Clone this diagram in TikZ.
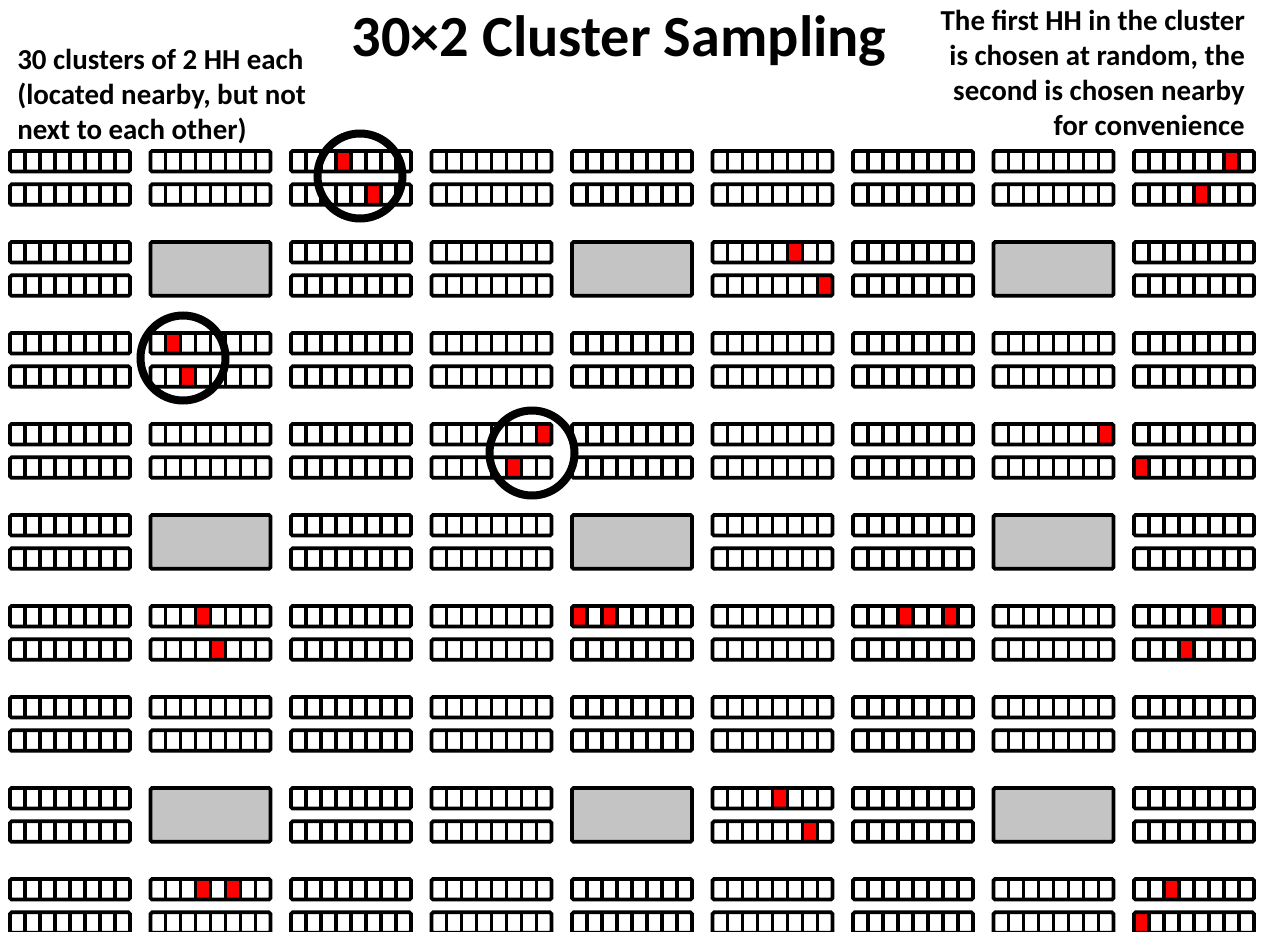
\documentclass[tikz,border=0pt]{standalone}
\usepackage{fontspec}
\setmainfont{Carlito}
\definecolor{lotgray}{RGB}{196,196,196}
\definecolor{hhred}{RGB}{255,0,0}

\begin{document}
\begin{tikzpicture}[x=0.75pt, y=-0.75pt, font=\bfseries]
  \tikzset{strip/.style={draw=black, line width=2.8pt, rounded corners=1.2pt},
    cellline/.style={draw=black, line width=2.4pt},
    lot/.style={draw=black, fill=lotgray, line width=2.8pt, rounded corners=1.2pt},
    pick/.style={fill=hhred},
    ring/.style={draw=black, line width=6pt},
    note/.style={inner sep=0pt, font=\fontsize{21.7}{26.3}\selectfont\bfseries}}
  \useasboundingbox (0,0) rectangle (1266,931);

  % chosen households
  \foreach \c/\r/\b/\k in {3/1/0/4, 3/1/1/6, 9/1/0/7, 9/1/1/5, 6/2/0/6, 6/2/1/8,
      2/3/0/2, 2/3/1/3, 4/4/0/8, 4/4/1/6, 8/4/0/8, 9/4/1/1, 2/6/0/4, 2/6/1/5,
      5/6/0/1, 5/6/0/3, 7/6/0/4, 7/6/0/7, 9/6/0/6, 9/6/1/4, 6/8/0/5, 6/8/1/7,
      2/9/0/4, 2/9/0/6, 9/9/0/3, 9/9/1/1}
    \fill[pick] ({10+(\c-1)*140.5+(\k-1)*15},{151+(\r-1)*91+\b*33.3}) rectangle ++(15,20.5);

  % rows of houses and empty lots
  \foreach \r in {1,...,9}{
    \foreach \c in {1,...,9}{
      \pgfmathsetmacro\px{10+(\c-1)*140.5}
      \pgfmathsetmacro\py{151+(\r-1)*91}
      \pgfmathtruncatemacro\islot{(mod(\r,3)==2)&&(mod(\c,3)==2)}
      \ifnum\islot=1
        \draw[lot] (\px,\py) rectangle ++(120,53.8);
      \else
        \foreach \b in {0,1}{
          \draw[strip] (\px,{\py+\b*33.3}) rectangle ++(120,20.5);
          \foreach \k in {1,...,7}
            \draw[cellline] ({\px+\k*15},{\py+\b*33.3}) -- ++(0,20.5);
        }
      \fi
    }
  }

  % clusters
  \draw[ring] (360,176) circle[radius=42.5];
  \draw[ring] (183,358) circle[radius=42.5];
  \draw[ring] (532,453) circle[radius=42.5];

  \node[anchor=base, font=\fontsize{43.7}{52}\selectfont\bfseries] (title) at (619,57) {30×2 Cluster Sampling};
  \node[note, anchor=north west, align=left] (leftnote) at (17,49)
    {30 clusters of 2 HH each\\(located nearby, but not\\next to each other)};
  \node[note, anchor=north east, align=right] (rightnote) at (1245,10)
    {The first HH in the cluster\\is chosen at random, the\\second is chosen nearby\\for convenience};
\end{tikzpicture}
\end{document}
